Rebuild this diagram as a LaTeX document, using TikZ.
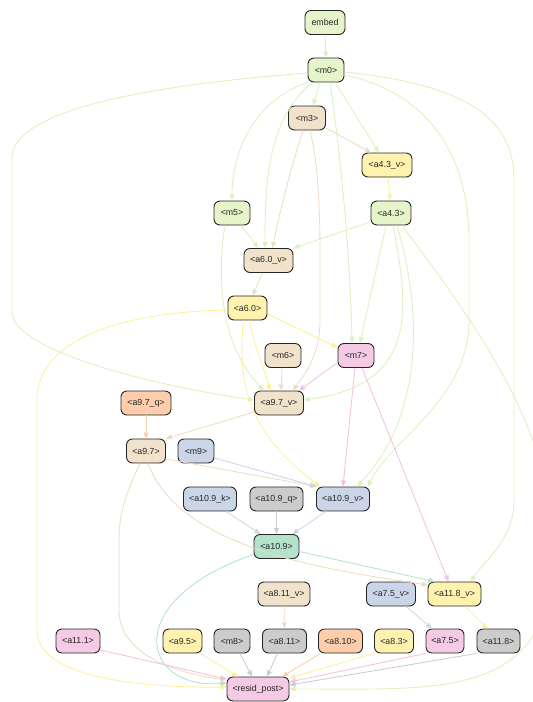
\documentclass[tikz,border=0pt]{standalone}
\usepackage{fontspec}
\setmainfont{Liberation Sans}
\usetikzlibrary{arrows.meta}
\definecolor{cgreen}{HTML}{E6F5C9}
\definecolor{ctan}{HTML}{F1E2CC}
\definecolor{cyellow}{HTML}{FFF2AE}
\definecolor{cpink}{HTML}{F4CAE4}
\definecolor{corange}{HTML}{FDCDAC}
\definecolor{cblue}{HTML}{CBD5E8}
\definecolor{cgray}{HTML}{CCCCCC}
\definecolor{cmint}{HTML}{B3E2CD}
\definecolor{egreen}{HTML}{DDF0BE}
\definecolor{etan}{HTML}{EEDCC2}
\definecolor{eyellow}{HTML}{FFEE9C}
\definecolor{epink}{HTML}{F2C2DF}
\colorlet{eorange}{corange}
\colorlet{eblue}{cblue}
\colorlet{egray}{cgray}
\colorlet{emint}{cmint}
\tikzset{
  box/.style={draw=black!85, line width=0.9pt, rounded corners=6pt, minimum height=24pt,
    inner sep=0pt, text=black!85, font=\fontsize{8.8}{10}\selectfont},
  conn/.style={line width=0.85pt, -{Triangle[length=6pt,width=5pt]}},
}
\begin{document}
\begin{tikzpicture}[x=1pt,y=-1pt]
\useasboundingbox (0,0) rectangle (533,702);
% nodes
\node[box, fill=cgreen, minimum width=40pt] (embed) at (325,22.5) {embed};
\node[box, fill=cgreen, minimum width=36pt] (m0) at (326,70) {<m0>};
\node[box, fill=ctan, minimum width=37pt] (m3) at (307,118) {<m3>};
\node[box, fill=cyellow, minimum width=50pt] (a43v) at (387,165) {<a4.3\_v>};
\node[box, fill=cgreen, minimum width=36pt] (m5) at (232,213) {<m5>};
\node[box, fill=cgreen, minimum width=40pt] (a43) at (391,213) {<a4.3>};
\node[box, fill=ctan, minimum width=49pt] (a60v) at (268.5,260.5) {<a6.0\_v>};
\node[box, fill=cyellow, minimum width=39pt] (a60) at (247.5,308) {<a6.0>};
\node[box, fill=ctan, minimum width=36pt] (m6) at (283,355.5) {<m6>};
\node[box, fill=cpink, minimum width=36pt] (m7) at (356,355.5) {<m7>};
\node[box, fill=corange, minimum width=50pt] (a97q) at (146,403) {<a9.7\_q>};
\node[box, fill=ctan, minimum width=49pt] (a97v) at (279,403) {<a9.7\_v>};
\node[box, fill=ctan, minimum width=39pt] (a97) at (146,451) {<a9.7>};
\node[box, fill=cblue, minimum width=36pt] (m9) at (196,451) {<m9>};
\node[box, fill=cblue, minimum width=53pt] (a109k) at (210,499) {<a10.9\_k>};
\node[box, fill=cgray, minimum width=53pt] (a109q) at (276.5,499) {<a10.9\_q>};
\node[box, fill=cblue, minimum width=53pt] (a109v) at (343,499) {<a10.9\_v>};
\node[box, fill=cmint, minimum width=45pt] (a109) at (276.5,546.5) {<a10.9>};
\node[box, fill=ctan, minimum width=52pt] (a811v) at (284,594) {<a8.11\_v>};
\node[box, fill=cblue, minimum width=49pt] (a75v) at (391,594) {<a7.5\_v>};
\node[box, fill=cyellow, minimum width=53pt] (a118v) at (454.5,594) {<a11.8\_v>};
\node[box, fill=cpink, minimum width=44pt] (a111) at (78,641) {<a11.1>};
\node[box, fill=cyellow, minimum width=39pt] (a95) at (182.5,641) {<a9.5>};
\node[box, fill=cgray, minimum width=36pt] (m8) at (232,641) {<m8>};
\node[box, fill=cgray, minimum width=44pt] (a811) at (284.5,641) {<a8.11>};
\node[box, fill=corange, minimum width=44pt] (a810) at (340.5,641) {<a8.10>};
\node[box, fill=cyellow, minimum width=39pt] (a83) at (394,641) {<a8.3>};
\node[box, fill=cpink, minimum width=38pt] (a75) at (445,641) {<a7.5>};
\node[box, fill=cgray, minimum width=43pt] (a118) at (498.5,641) {<a11.8>};
\node[box, fill=cpink, minimum width=62pt] (resid) at (258,689) {<resid\_post>};

% green sources
\begin{scope}[conn, draw=egreen, color=egreen]
\draw (embed) -- (m0);
\draw ([xshift=-6pt]m0.south) -- ([xshift=6pt]m3.north);
\draw ([xshift=9pt]m0.south) -- ([xshift=-8pt]a43v.north);
\draw ([xshift=-18pt]m0.south) .. controls (255,100) and (232,150) .. (m5.north);
\draw ([xshift=-14pt]m0.south) .. controls (268,120) and (265,180) .. ([xshift=-3.5pt]a60v.north);
\draw ([xshift=4pt]m0.south) .. controls (340,150) and (350,250) .. ([xshift=-4pt]m7.north);
\draw ([yshift=-3pt]m0.west) .. controls (150,85) and (12,110) .. (12,158) -- (12,312) .. controls (12,350) and (150,385) .. ([yshift=3pt]a97v.west);
\draw ([yshift=-5pt]m0.east) .. controls (440,95) and (469,170) .. (469,240) -- (469,320) .. controls (469,400) and (390,440) .. ([xshift=25pt]a109v.north);
\draw ([yshift=-2pt]m0.east) .. controls (470,85) and (514,120) .. (514,180) -- (514,500) .. controls (514,540) and (485,560) .. ([xshift=16pt]a118v.north);
\draw ([xshift=9pt]m5.south) -- ([xshift=-10pt]a60v.north);
\draw ([xshift=-7pt]m5.south) .. controls (215,290) and (225,350) .. ([xshift=-15pt]a97v.north);
\draw ([yshift=-9pt]a43.west) -- (a60v.north east);
\draw ([xshift=-5pt]a43.south) -- ([xshift=4pt]m7.north);
\draw ([xshift=2pt]a43.south) .. controls (412,320) and (412,385) .. ([yshift=3pt]a97v.east);
\draw ([xshift=6pt]a43.south) .. controls (425,320) and (420,420) .. ([xshift=14pt]a109v.north);
\draw ([xshift=11pt]a43.south) .. controls (480,330) and (545,420) .. (555,540) .. controls (555,700) and (450,689) .. (resid.east);
\end{scope}
% tan sources
\begin{scope}[conn, draw=etan, color=etan]
\draw ([yshift=-10pt]m3.east) -- ([xshift=-16pt]a43v.north);
\draw ([xshift=-4pt]m3.south) .. controls (290,170) and (278,220) .. ([xshift=4pt]a60v.north);
\draw ([xshift=3pt]m3.south) .. controls (320,170) and (320,230) .. (320,260) -- (320,320) .. controls (320,360) and (300,380) .. ([xshift=14pt]a97v.north);
\draw ([xshift=-6pt]a60v.south) -- ([xshift=5pt]a60.north);
\draw ([xshift=-1pt]m6.south) -- ([xshift=2pt]a97v.north);
\draw ([yshift=-9pt]a97v.west) -- (a97.north east);
\draw ([yshift=-8pt]a97.east) -- ([xshift=1pt]a109v.north west);
\draw ([xshift=2pt]a97.south) .. controls (180,550) and (330,570) .. ([yshift=9pt]a118v.west);
\draw ([xshift=-6pt]a97.south) .. controls (125,495) and (119,515) .. (119,540) -- (119,610) .. controls (119,660) and (190,675) .. ([yshift=9pt]resid.west);
\draw (a811v) -- (a811);
\end{scope}
% yellow sources
\begin{scope}[conn, draw=eyellow, color=eyellow]
\draw (a43v) -- (a43);
\draw ([yshift=-6pt]a60.east) -- ([yshift=8pt]m7.west);
\draw ([xshift=2pt]a60.south) .. controls (255,350) and (265,370) .. ([xshift=-9pt]a97v.north);
\draw ([xshift=-4pt]a60.south) .. controls (235,400) and (260,440) .. ([xshift=-23pt]a109v.north);
\draw ([yshift=-2pt]a60.west) .. controls (120,312) and (37,340) .. (37,400) -- (37,630) .. controls (37,680) and (150,688) .. ([yshift=2pt]resid.west);
\draw ([xshift=11pt]a118v.south) -- ([xshift=-11pt]a118.north);
\draw ([xshift=18pt]a95.south) -- ([xshift=-20pt]resid.north);
\draw (a83.south west) -- ([yshift=11pt]resid.east);
\end{scope}
% pink sources
\begin{scope}[conn, draw=epink, color=epink]
\draw ([yshift=-7pt]m7.west) -- ([xshift=20pt]a97v.north);
\draw ([xshift=-1pt]m7.south) -- (a109v.north);
\draw ([xshift=6pt]m7.south) -- ([xshift=-6pt]a118v.north);
\draw ([yshift=-9pt]a111.east) -- ([yshift=10pt]resid.west);
\draw (a75.south west) -- ([yshift=7pt]resid.east);
\end{scope}
% orange sources
\begin{scope}[conn, draw=eorange, color=eorange]
\draw (a97q) -- (a97);
\draw ([xshift=-20pt]a810.south) -- ([xshift=24pt]resid.north);
\end{scope}
% blue sources
\begin{scope}[conn, draw=eblue, color=eblue]
\draw ([yshift=-7pt]m9.east) -- (a109v.north west);
\draw ([xshift=16pt]a109k.south) -- ([xshift=-16pt]a109.north);
\draw ([xshift=-17pt]a109v.south) -- ([xshift=16pt]a109.north);
\draw ([xshift=15pt]a75v.south) -- ([xshift=-13pt]a75.north);
\end{scope}
% gray sources
\begin{scope}[conn, draw=egray, color=egray]
\draw (a109q) -- (a109);
\draw ([xshift=8pt]m8.south) -- ([xshift=-6pt]resid.north);
\draw ([xshift=-7pt]a811.south) -- ([xshift=9pt]resid.north);
\draw (a118.south west) -- ([yshift=4pt]resid.east);
\end{scope}
% mint source
\begin{scope}[conn, draw=emint, color=emint]
\draw ([yshift=-5pt]a109.east) -- ([xshift=-20pt]a118v.north);
\draw ([yshift=-8pt]a109.west) .. controls (120,600) and (140,690) .. ([yshift=6pt]resid.west);
\end{scope}
\end{tikzpicture}
\end{document}
